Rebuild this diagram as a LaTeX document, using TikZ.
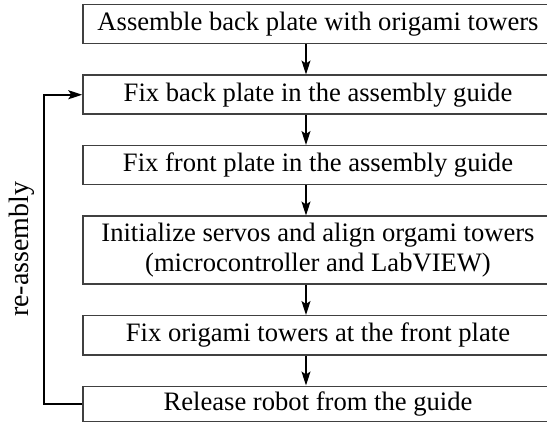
\documentclass[tikz,border=0pt]{standalone}
\usepackage{fontspec}
\setmainfont{Liberation Serif}
\usetikzlibrary{arrows.meta,positioning}

\begin{document}
\begin{tikzpicture}[x=1pt,y=-1pt,node distance=30pt,
    font=\fontsize{26.6}{30}\selectfont,
    stepbox/.style={rectangle,draw=black!75,line width=1.5pt,minimum width=470pt,
      minimum height=39pt,inner sep=4pt,align=center},
    >={Stealth[length=14pt,width=9pt,inset=3pt]}]
  \useasboundingbox (0,0) rectangle (547,425);
  \clip (0,0) rectangle (547,425);
  \node[stepbox,anchor=north] (b1) at (318,4) {Assemble back plate with origami towers};
  \node[stepbox,below=of b1] (b2) {Fix back plate in the assembly guide};
  \node[stepbox,below=of b2] (b3) {Fix front plate in the assembly guide};
  \node[stepbox,below=of b3,minimum height=68pt] (b4) {Initialize servos and align orgami towers\\(microcontroller and LabVIEW)};
  \node[stepbox,below=of b4] (b5) {Fix origami towers at the front plate};
  \node[stepbox,below=of b5,minimum height=35pt] (b6) {Release robot from the guide};
  % main flow
  \foreach \a/\b in {b1/b2,b2/b3,b3/b4,b4/b5,b5/b6}
    \draw[->,line width=1.4pt] ([xshift=-12pt]\a.south) -- ([xshift=-12pt]\b.north);
  % loop back
  \draw[->,line width=1.8pt] (b6.west) -- ++(-38,0)
    |- node[pos=0.25,rotate=90,above,inner sep=9pt,font=\fontsize{28}{30}\selectfont] {re-assembly} (b2.west);
\end{tikzpicture}
\end{document}
